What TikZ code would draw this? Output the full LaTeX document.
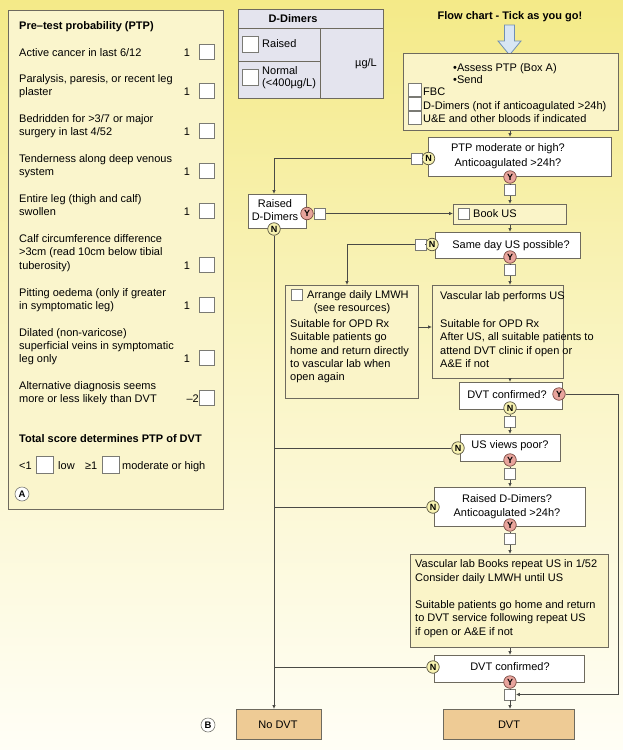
\documentclass[tikz,border=0pt]{standalone}
\usepackage{fontspec}
\setmainfont{Liberation Sans}
\usetikzlibrary{arrows.meta}
\definecolor{bgtop}{HTML}{F4EA88}
\definecolor{bgmid}{HTML}{FAF5C6}
\definecolor{bgbot}{HTML}{FFFEF6}
\definecolor{panelfill}{HTML}{FAF5CC}
\definecolor{boxfill}{HTML}{FAF4C8}
\definecolor{boxline}{HTML}{6E6A5E}
\definecolor{tickline}{HTML}{7A7A74}
\definecolor{tablefill}{HTML}{E4E4EE}
\definecolor{yfill}{HTML}{E8A49C}
\definecolor{ydraw}{HTML}{7A4A42}
\definecolor{nfill}{HTML}{F7F2B0}
\definecolor{ndraw}{HTML}{5A5640}
\definecolor{endfill}{HTML}{EECB95}
\definecolor{lineclr}{HTML}{4A4A46}
\definecolor{arrfill}{HTML}{D8E6F4}
\definecolor{arrline}{HTML}{7090B4}
\begin{document}
\begin{tikzpicture}[x=1pt,y=-1pt,
  every node/.style={font=\fontsize{11}{13.2}\selectfont, inner sep=0pt, text=black},
  bfont/.style={font=\fontsize{11}{13.2}\selectfont\bfseries},
  tl/.style={anchor=base west},
  tc/.style={anchor=base},
  abox/.style={draw=boxline, fill=boxfill, line width=0.8pt, anchor=north west},
  dbox/.style={draw=boxline, fill=white, line width=0.8pt, anchor=north west},
  ebox/.style={draw=boxline, fill=endfill, line width=0.8pt, anchor=north west},
  tick/.style={draw=tickline, fill=white, line width=0.6pt, minimum width=#1, minimum height=#1},
  tick/.default=11pt,
  ycirc/.style={circle, draw=ydraw, fill=yfill, minimum size=12.5pt, line width=0.7pt, font=\fontsize{9}{9}\selectfont\bfseries},
  ncirc/.style={circle, draw=ndraw, fill=nfill, minimum size=12.5pt, line width=0.7pt, font=\fontsize{9}{9}\selectfont\bfseries},
  lcirc/.style={circle, draw=tickline, fill=white, minimum size=14pt, line width=0.6pt, font=\fontsize{9.5}{9.5}\selectfont\bfseries},
  conn/.style={draw=lineclr, line width=0.8pt},
  arr/.style={conn, -{Latex[length=4pt,width=3.6pt]}},
  num/.style={anchor=base}
]
\useasboundingbox (0,0) rectangle (623,750);
\shade[top color=bgtop, bottom color=bgbot, middle color=bgmid] (0,0) rectangle (623,750);

% ---------------- Panel A ----------------
\node[draw=boxline, fill=panelfill, line width=0.8pt, anchor=north west, minimum width=215pt, minimum height=499pt] (panelA) at (8,10) {};
\node[bfont, tl] (pA0) at (19,29) {Pre–test probability (PTP)};
\node[tl] (pA1) at (19,56) {Active cancer in last 6/12};
\node[num] (n1) at (187,56) {1}; \node[tick=15pt] (k1) at (206.5,51.5) {};
\node[tl] (pA2a) at (19,82) {Paralysis, paresis, or recent leg};
\node[tl] (pA2b) at (19,95) {plaster};
\node[num] (n2) at (187,95) {1}; \node[tick=15pt] (k2) at (206.5,91) {};
\node[tl] (pA3a) at (19,122) {Bedridden for >3/7 or major};
\node[tl] (pA3b) at (19,135) {surgery in last 4/52};
\node[num] (n3) at (187,135) {1}; \node[tick=15pt] (k3) at (206.5,131) {};
\node[tl] (pA4a) at (19,162) {Tenderness along deep venous};
\node[tl] (pA4b) at (19,175) {system};
\node[num] (n4) at (187,175) {1}; \node[tick=15pt] (k4) at (206.5,171) {};
\node[tl] (pA5a) at (19,202) {Entire leg (thigh and calf)};
\node[tl] (pA5b) at (19,215) {swollen};
\node[num] (n5) at (187,215) {1}; \node[tick=15pt] (k5) at (206.5,211) {};
\node[tl] (pA6a) at (19,242) {Calf circumference difference};
\node[tl] (pA6b) at (19,255) {>3cm (read 10cm below tibial};
\node[tl] (pA6c) at (19,269) {tuberosity)};
\node[num] (n6) at (187,269) {1}; \node[tick=15pt] (k6) at (206.5,264.5) {};
\node[tl] (pA7a) at (19,296) {Pitting oedema (only if greater};
\node[tl] (pA7b) at (19,309) {in symptomatic leg)};
\node[num] (n7) at (187,309) {1}; \node[tick=15pt] (k7) at (206.5,305) {};
\node[tl] (pA8a) at (19,336) {Dilated (non-varicose)};
\node[tl] (pA8b) at (19,349) {superficial veins in symptomatic};
\node[tl] (pA8c) at (19,362) {leg only};
\node[num] (n8) at (187,362) {1}; \node[tick=15pt] (k8) at (206.5,358) {};
\node[tl] (pA9a) at (19,389) {Alternative diagnosis seems};
\node[tl] (pA9b) at (19,402) {more or less likely than DVT};
\node[anchor=base east] (n9) at (199,402) {–2}; \node[tick=15pt] (k9) at (206.5,398) {};
\node[bfont, tl] (pA10) at (19,442) {Total score determines PTP of DVT};
\node[tl] (lt1) at (19,469) {<1};
\node[tick=17pt] (klow) at (44.5,465) {};
\node[tl] (low) at (58,469) {low};
\node[tl] (ge1) at (85,469) {≥1};
\node[tick=17pt] (khigh) at (110.5,465) {};
\node[tl] (high) at (122,469) {moderate or high};
\node[lcirc] (circA) at (22,494) {A};
\node[lcirc] (circB) at (208,725) {B};

% ---------------- D-Dimers table ----------------
\node[draw=boxline, fill=tablefill, line width=0.8pt, anchor=north west, minimum width=145pt, minimum height=89pt] (dd) at (238,9) {};
\draw[draw=boxline, line width=0.8pt] (dd.north west |- 0,28) -- (dd.north east |- 0,28);
\draw[draw=boxline, line width=0.8pt] (320,28) -- (dd.south -| 320,0);
\draw[draw=boxline, line width=0.8pt] (dd.west |- 0,61) -- (320,61);
\node[bfont, tc] (ddh) at (293,22.5) {D-Dimers};
\node[tick=16pt] (kr) at (250,44) {};
\node[tl] (ddr) at (262,47.5) {Raised};
\node[tick=16pt] (kn) at (250,77.5) {};
\node[tl] (ddn1) at (262,74) {Normal};
\node[tl] (ddn2) at (262,86.5) {(<400µg/L)};
\node[tc] (ddu) at (366,66) {µg/L};

% ---------------- Flow chart ----------------
\node[bfont, tc] (title) at (510,19) {Flow chart - Tick as you go!};
\draw[fill=arrfill, draw=arrline, line width=0.8pt] (504.5,25) -- (514.5,25) -- (514.5,41) -- (521,41) -- (509.5,55) -- (498,41) -- (504.5,41) -- cycle;

% Assess box
\node[abox, minimum width=215pt, minimum height=77pt] (assess) at (403,53) {};
\node[tl] (as1) at (453,71) {•Assess PTP (Box A)};
\node[tl] (as2) at (453,83) {•Send};
\node[tick=13pt] (kfbc) at (414.5,89.5) {};
\node[tl] (fbc) at (423,95) {FBC};
\node[tick=13pt] (kdd) at (414.5,104) {};
\node[tl] (ddt) at (423,109) {D-Dimers (not if anticoagulated >24h)};
\node[tick=13pt] (kue) at (414.5,118) {};
\node[tl] (ue) at (423,122.5) {U\&E and other bloods if indicated};

% PTP decision
\node[dbox, minimum width=183pt, minimum height=39pt] (ptp) at (428,137) {};
\node[tc] (ptpt1) at (508,151) {PTP moderate or high?};
\node[tc] (ptpt2) at (508,166) {Anticoagulated >24h?};
\node[ncirc] (ptpN) at (428.5,158.5) {N};
\node[tick] (ptpNbox) at (416.5,158.5) {};
\node[ycirc] (ptpY) at (510,177) {Y};
\node[tick] (ptpYbox) at (510,190) {};

% Raised D-Dimers (left)
\node[dbox, minimum width=58pt, minimum height=34pt] (rdd) at (248,194) {};
\node[tc] (rddt1) at (275,207) {Raised};
\node[tc] (rddt2) at (275,220) {D-Dimers};
\node[ycirc] (rddY) at (307,213.5) {Y};
\node[tick] (rddYbox) at (320,213.5) {};
\node[ncirc] (rddN) at (274,229) {N};

% Book US
\node[abox, minimum width=113pt, minimum height=20pt] (book) at (453,204) {};
\node[tick] (kbook) at (463.5,214) {};
\node[tl] (bookt) at (473,217.5) {Book US};

% Same day US
\node[dbox, minimum width=145pt, minimum height=26pt] (same) at (435,232) {};
\node[tc] (samet) at (511,248) {Same day US possible?};
\node[ncirc] (sameN) at (432,244.5) {N};
\node[tick] (sameNbox) at (420.5,244.5) {};
\node[ycirc] (sameY) at (510,257) {Y};
\node[tick] (sameYbox) at (510,270) {};

% LMWH
\node[abox, minimum width=133pt, minimum height=113pt] (lmwh) at (285,285) {};
\node[tick] (klmwh) at (297,294.5) {};
\node[tl] (lm1) at (307,298) {Arrange daily LMWH};
\node[tc] (lm2) at (352,311) {(see resources)};
\node[align=left, anchor=north west] (lm3) at (290,319.5) {Suitable for OPD Rx\\Suitable patients go\\home and return directly\\to vascular lab when\\open again};

% Vascular lab
\node[abox, minimum width=131pt, minimum height=93pt] (vlab) at (432,285) {};
\node[tl] (vl1) at (440,299) {Vascular lab performs US};
\node[align=left, anchor=north west] (vl2) at (440,319.5) {Suitable for OPD Rx\\After US, all suitable patients to\\attend DVT clinic if open or\\A\&E if not};

% DVT confirmed 1
\node[dbox, minimum width=103pt, minimum height=27pt] (conf1) at (459,382) {};
\node[tc] (conf1t) at (507,398) {DVT confirmed?};
\node[ycirc] (conf1Y) at (559,394) {Y};
\node[ncirc] (conf1N) at (510,408) {N};
\node[tick] (conf1Nbox) at (510,421.5) {};

% US views poor
\node[dbox, minimum width=100pt, minimum height=27pt] (poor) at (460,434) {};
\node[tc] (poort) at (510,448) {US views poor?};
\node[ncirc] (poorN) at (458,448) {N};
\node[ycirc] (poorY) at (510,460) {Y};
\node[tick] (poorYbox) at (510,474) {};

% Raised D-Dimers? decision
\node[dbox, minimum width=151pt, minimum height=39pt] (rdd2) at (434,487) {};
\node[tc] (rdd2t1) at (507,502) {Raised D-Dimers?};
\node[tc] (rdd2t2) at (507,516) {Anticoagulated >24h?};
\node[ncirc] (rdd2N) at (433,507) {N};
\node[ycirc] (rdd2Y) at (510,525) {Y};
\node[tick] (rdd2Ybox) at (510,539) {};

% Vascular lab books
\node[abox, minimum width=198pt, minimum height=93pt] (books) at (410,554) {};
\node[align=left, anchor=north west] (bk1) at (415,559.5) {Vascular lab Books repeat US in 1/52\\[0.8pt]Consider daily LMWH until US};
\node[align=left, anchor=north west] (bk2) at (415,600.5) {Suitable patients go home and return\\to DVT service following repeat US\\if open or A\&E if not};

% DVT confirmed 2
\node[dbox, minimum width=150pt, minimum height=27pt] (conf2) at (434,655) {};
\node[tc] (conf2t) at (510,670) {DVT confirmed?};
\node[ncirc] (conf2N) at (433,667) {N};
\node[ycirc] (conf2Y) at (510,682) {Y};
\node[tick] (conf2Ybox) at (510,694.5) {};

% End boxes
\node[ebox, minimum width=85pt, minimum height=30pt] (nodvt) at (236,709) {};
\node[tc] (nodvtt) at (278,728) {No DVT};
\node[ebox, minimum width=131pt, minimum height=30pt] (dvt) at (443,709) {};
\node[tc] (dvtt) at (509,728) {DVT};

% ---------------- Connectors ----------------
\coordinate (c1) at (274,158.5);
\coordinate (c2) at (347,244.5);
\coordinate (c3) at (618,394);
\coordinate (c4) at (418,327);

\draw[arr] (assess.south -| ptpY) -- (ptp.north -| ptpY);
\draw[conn] (ptpN) -- (ptpNbox);
\draw[arr] (ptpNbox.west) -- (c1) -- (c1 |- rdd.north);
\draw[conn] (ptpY) -- (ptpYbox);
\draw[arr] (ptpYbox) -- (ptpYbox |- book.north);
\draw[conn] (rddY) -- (rddYbox);
\draw[arr] (rddYbox) -- (rddYbox -| book.west);
\draw[arr] (rddN) -- (rddN |- nodvt.north);
\draw[arr] (book.south -| sameY) -- (same.north -| sameY);
\draw[conn] (sameN) -- (sameNbox);
\draw[arr] (sameNbox.west) -- (c2) -- (c2 |- lmwh.north);
\draw[conn] (sameY) -- (sameYbox);
\draw[arr] (sameYbox) -- (sameYbox |- vlab.north);
\draw[arr] (c4) -- (c4 -| vlab.west);
\draw[arr] (vlab.south -| conf1N) -- (conf1.north -| conf1N);
\draw[arr] (conf1Y) -- (c3) -- (c3 |- conf2Ybox) -- (conf2Ybox.east);
\draw[conn] (conf1N) -- (conf1Nbox);
\draw[arr] (conf1Nbox) -- (conf1Nbox |- poor.north);
\draw[conn] (poorN) -- (poorN -| rddN);
\draw[conn] (poorY) -- (poorYbox);
\draw[arr] (poorYbox) -- (poorYbox |- rdd2.north);
\draw[conn] (rdd2N) -- (rdd2N -| rddN);
\draw[conn] (rdd2Y) -- (rdd2Ybox);
\draw[arr] (rdd2Ybox) -- (rdd2Ybox |- books.north);
\draw[arr] (books.south -| conf2Y) -- (conf2.north -| conf2Y);
\draw[conn] (conf2N) -- (conf2N -| rddN);
\draw[conn] (conf2Y) -- (conf2Ybox);
\draw[arr] (conf2Ybox) -- (conf2Ybox |- dvt.north);
\end{tikzpicture}
\end{document}
